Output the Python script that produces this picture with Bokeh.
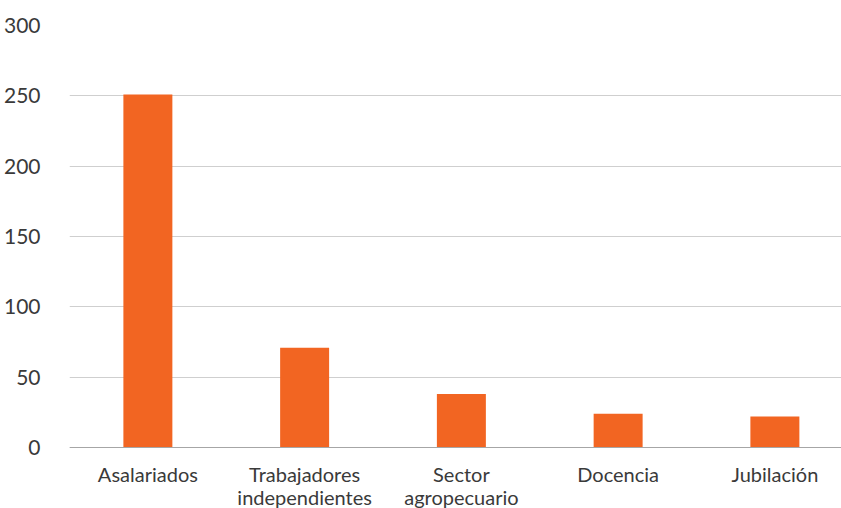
from bokeh.plotting import figure
from bokeh.models import Range1d, ColumnDataSource, FixedTicker, Span
from bokeh.core.properties import value
from bokeh.embed import file_html
from bokeh.resources import INLINE

categories = ["Asalariados", "Trabajadores\nindependientes", "Sector\nagropecuario", "Docencia", "Jubilación"]
values = [251, 71, 38, 24, 22]
y_ticks = [0, 50, 100, 150, 200, 250, 300]

xpos = [i + 0.5 for i in range(len(categories))]
src = ColumnDataSource(data=dict(x=xpos, val=values, cat=categories, base=[0] * len(values)))

# frame runs to the bottom edge; the value 0 sits 61 px above it (label band)
y_start = -300 * 61 / 422

p = figure(
    width=841, height=508,
    x_range=Range1d(0, 4.925),
    y_range=Range1d(y_start, 300),
    output_backend="svg", toolbar_location=None,
    min_border_left=69, min_border_right=0, min_border_top=25, min_border_bottom=0,
)
p.outline_line_color = None
p.background_fill_color = "white"
p.border_fill_color = "white"

FONT = "Lato"
TEXT = "#3a3a3a"

p.ygrid.ticker = FixedTicker(ticks=y_ticks)
p.ygrid.grid_line_color = "#cfcfcf"
p.ygrid.grid_line_width = 1
p.xgrid.grid_line_color = None

p.add_layout(Span(location=0, dimension="width", line_color="#a6a6a6", line_width=1))

p.vbar(x="x", bottom=0, top="val", width=0.3125, source=src, fill_color="#F26522", line_color=None)

p.text(x="x", y="base", text="cat", source=src, y_offset=14,
       text_align="center", text_baseline="top",
       text_font=value(FONT), text_font_size="20px", text_color=TEXT,
       text_line_height=0.97)

p.yaxis.ticker = FixedTicker(ticks=y_ticks)
p.yaxis.axis_line_color = None
p.yaxis.major_tick_line_color = None
p.yaxis.minor_tick_line_color = None
p.yaxis.major_label_standoff = 23
p.yaxis.major_label_text_font = FONT
p.yaxis.major_label_text_font_size = "21px"
p.yaxis.major_label_text_color = TEXT

p.xaxis.visible = False

open("out.html", "w").write(file_html(p, INLINE))
